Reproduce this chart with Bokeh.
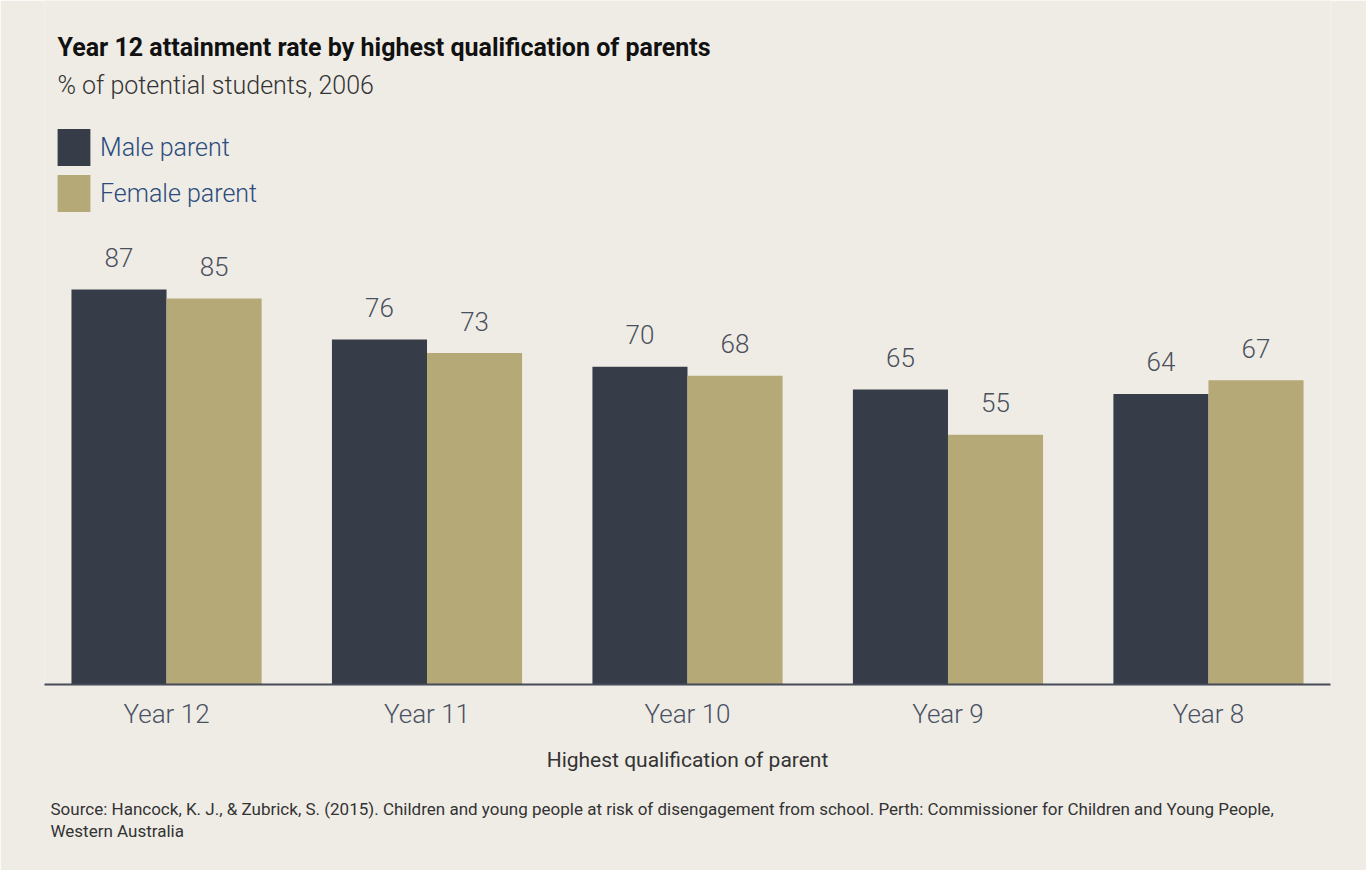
from bokeh.plotting import figure
from bokeh.models import FactorRange, Range1d, Label, Legend, LegendItem, ColumnDataSource, Title
from bokeh.transform import dodge
from bokeh.core.properties import value
from bokeh.embed import file_html
from bokeh.resources import INLINE

categories = ["Year 12", "Year 11", "Year 10", "Year 9", "Year 8"]
male_parent = [87, 76, 70, 65, 64]
female_parent = [85, 73, 68, 55, 67]

title_text = "Year 12 attainment rate by highest qualification of parents"
subtitle_text = "% of potential students, 2006"
x_label = "Highest qualification of parent"
source_lines = [
    "Source: Hancock, K. J., & Zubrick, S. (2015). Children and young people at risk of disengagement from school. Perth: Commissioner for Children and Young People,",
    "Western Australia",
]

BG = "#EFECE6"
MALE = "#363D49"
FEMALE = "#B5A977"
FONT = "Roboto"
LIGHT = "'Roboto Light', Roboto"

src = ColumnDataSource(dict(
    cat=categories,
    male=male_parent,
    female=female_parent,
    male_txt=[str(v) for v in male_parent],
    female_txt=[str(v) for v in female_parent],
))

W, H = 1366, 870
left, right = 44, W - 1330
frame_bottom = 684
bottom = H - frame_bottom
px_per_unit = 4.54

p = figure(
    width=W, height=H,
    x_range=FactorRange(*categories, range_padding=-0.0126),
    y_range=Range1d(0, frame_bottom / px_per_unit),
    output_backend="svg", toolbar_location=None,
    y_axis_location=None,
    min_border_left=left, min_border_right=right,
    min_border_top=0, min_border_bottom=bottom,
    background_fill_color=BG, border_fill_color=BG,
    outline_line_color=None,
)
p.xgrid.grid_line_color = None
p.ygrid.grid_line_color = None

bw = 0.365
r_m = p.vbar(x=dodge("cat", -bw / 2, range=p.x_range), top="male", width=bw, source=src,
             fill_color=MALE, line_color=None)
r_f = p.vbar(x=dodge("cat", bw / 2, range=p.x_range), top="female", width=bw, source=src,
             fill_color=FEMALE, line_color=None)

for col, off in (("male", -bw / 2), ("female", bw / 2)):
    p.text(x=dodge("cat", off, range=p.x_range), y=col, text=col + "_txt", source=src,
           text_align="center", text_baseline="alphabetic", y_offset=-32,
           text_font=value(LIGHT), text_font_size="26px", text_color="#4A505C")

ax = p.xaxis[0]
ax.axis_line_color = "#454B57"
ax.axis_line_width = 2
ax.major_tick_line_color = None
ax.minor_tick_line_color = None
ax.major_tick_in = 0
ax.major_tick_out = 0
ax.major_label_standoff = 14
ax.major_label_text_font = LIGHT
ax.major_label_text_font_size = "26px"
ax.major_label_text_color = "#4A5263"
ax.axis_label = x_label
ax.axis_label_text_font = FONT
ax.axis_label_text_font_size = "21px"
ax.axis_label_text_font_style = "normal"
ax.axis_label_text_color = "#333333"
ax.axis_label_standoff = 16

legend = Legend(
    items=[LegendItem(label="Male parent", renderers=[r_m]),
           LegendItem(label="Female parent", renderers=[r_f])],
    location=(9, 468),
    orientation="vertical",
    glyph_width=41, glyph_height=46, spacing=-2,
    label_standoff=6, padding=0, margin=0,
    label_text_font=LIGHT, label_text_font_size="25px", label_text_color="#2A4B7C",
    border_line_color=None, background_fill_alpha=0,
)
p.add_layout(legend, "center")

p.add_layout(Label(x=13, y=637, x_units="screen", y_units="screen", text=title_text,
                   text_font=FONT, text_font_size="25px", text_font_style="bold",
                   text_color="#111111", text_baseline="alphabetic"))
p.add_layout(Label(x=13, y=599, x_units="screen", y_units="screen", text=subtitle_text,
                   text_font=LIGHT, text_font_size="25px", text_color="#333333",
                   text_baseline="alphabetic"))

p.add_layout(Title(text="\n".join(source_lines), align="left", offset=6, standoff=44,
                   text_font=FONT, text_font_size="17px", text_font_style="normal",
                   text_color="#333333", text_line_height=1.1), "below")

open("out.html", "w").write(file_html(p, INLINE))
